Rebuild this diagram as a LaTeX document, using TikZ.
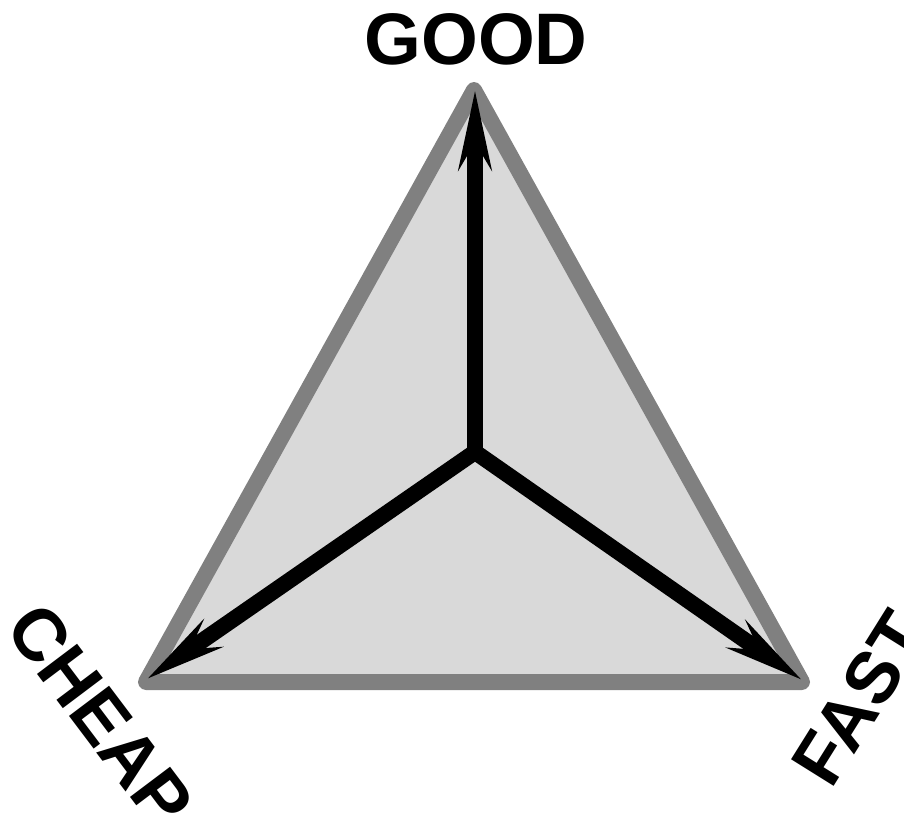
\documentclass[tikz,border=0pt]{standalone}
\usepackage{fontspec}
\setmainfont{Liberation Sans}
\usepackage{tikz}
\usetikzlibrary{arrows.meta}

\begin{document}
\begin{tikzpicture}[x=1pt, y=-1pt,
    corner/.style={font=\fontsize{73}{73}\selectfont\bfseries, inner sep=0pt},
    plane/.style={draw=black!50, fill=black!15, line width=16pt, line join=round},
    pull/.style={draw, line width=16pt, line cap=round,
        -{Stealth[length=78pt, width=32pt, inset=26pt]}}
]
\useasboundingbox (0,0) rectangle (904,816);

% corners of the triangle
\coordinate (top) at (474,90);
\coordinate (left) at (146,682);
\coordinate (right) at (802,682);
\coordinate (hub) at (475,452);

% tips of the three pulls
\coordinate (good) at (475,90);
\coordinate (cheap) at (147,679);
\coordinate (fast) at (802,680);

\draw[plane] (top) -- (left) -- (right) -- cycle;

\draw[pull] (hub) -- (good);
\draw[pull] (hub) -- (cheap);
\draw[pull] (hub) -- (fast);

\node[corner] (goodlabel) at (476,39) {GOOD};
\node[corner, rotate=-53] (cheaplabel) at (100,715) {CHEAP};
\node[corner, rotate=58] (fastlabel) at (860,698) {FAST};
\end{tikzpicture}
\end{document}
